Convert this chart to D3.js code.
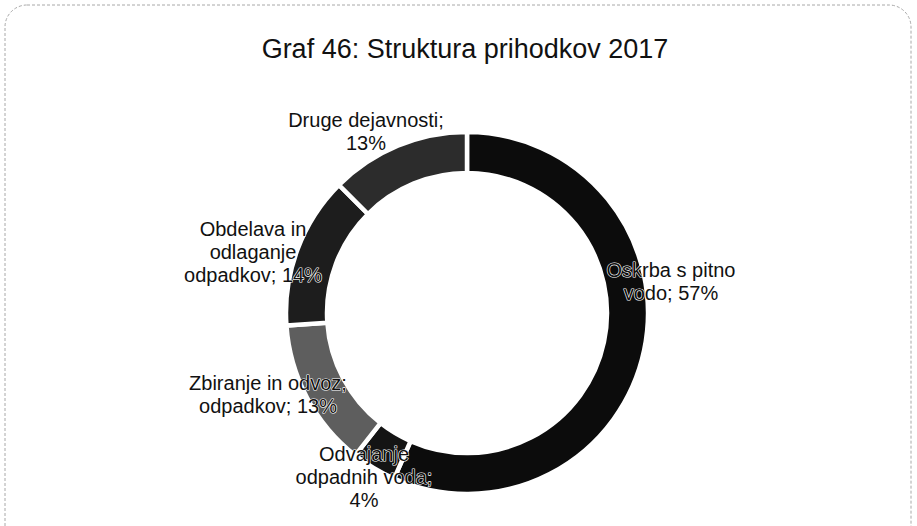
<!DOCTYPE html>
<html>
<head>
<meta charset="utf-8">
<script src="https://cdn.jsdelivr.net/npm/d3@7/dist/d3.min.js"></script>
<style>
  html, body { margin: 0; padding: 0; background: #fff; }
  svg { display: block; }
  text { font-family: "Liberation Sans", Arial, sans-serif; fill: #111; }
  .lbl { stroke: #fff; stroke-width: 1.2px; paint-order: stroke; stroke-linejoin: round; }
</style>
</head>
<body>
<svg id="chart" width="917" height="526"></svg>
<script>
// ---- data ----
const title = "Graf 46: Struktura prihodkov 2017";
const categories = [
  "Oskrba s pitno vodo",
  "Odvajanje odpadnih voda",
  "Zbiranje in odvoz odpadkov",
  "Obdelava in odlaganje odpadkov",
  "Druge dejavnosti"
];
const values = [56.6, 4.0, 13.3, 13.6, 12.5];
const labelLines = [
  ["Oskrba s pitno", "vodo; "],
  ["Odvajanje", "odpadnih voda;", ""],
  ["Zbiranje in odvoz;", "odpadkov; "],
  ["Obdelava in", "odlaganje", "odpadkov; "],
  ["Druge dejavnosti;", ""]
];
const colors = ["#0c0c0c", "#141414", "#5e5e5e", "#1d1d1d", "#2c2c2c"];
// label anchor (centre x, first baseline y)
const labelPos = [[671, 277], [364, 461], [268, 390], [253, 236], [366, 127]];

// ---- layout ----
const svg = d3.select("#chart");
const cx = 467, cy = 313, rOuter = 181, rInner = 140;

// scanned-style rounded frame
svg.append("rect")
  .attr("x", 5).attr("y", 5).attr("width", 906).attr("height", 560)
  .attr("rx", 22).attr("ry", 22)
  .attr("fill", "none").attr("stroke", "#a8a8a8")
  .attr("stroke-width", 1).attr("stroke-dasharray", "3,2");

svg.append("text")
  .attr("x", 465).attr("y", 58)
  .attr("text-anchor", "middle")
  .attr("font-size", 27)
  .text(title);

const pie = d3.pie().sort(null).value(d => d.value);
const data = categories.map((c, i) => ({ name: c, value: values[i], i }));
const arcs = pie(data);
const arc = d3.arc().innerRadius(rInner).outerRadius(rOuter);

const g = svg.append("g").attr("transform", `translate(${cx},${cy})`);
g.selectAll("path")
  .data(arcs)
  .join("path")
  .attr("d", arc)
  .attr("fill", d => colors[d.data.i])
  .attr("stroke", "#fff")
  .attr("stroke-width", 4.5)
  .attr("stroke-linejoin", "miter");

// labels
const lh = 23;
arcs.forEach(a => {
  const i = a.data.i;
  const pct = Math.round(a.data.value) + "%";
  const lines = labelLines[i].slice();
  lines[lines.length - 1] = lines[lines.length - 1] + pct;
  const t = svg.append("text")
    .attr("class", "lbl")
    .attr("text-anchor", "middle")
    .attr("font-size", 20)
    .attr("x", labelPos[i][0])
    .attr("y", labelPos[i][1]);
  lines.forEach((ln, k) => {
    t.append("tspan")
      .attr("x", labelPos[i][0])
      .attr("y", labelPos[i][1] + k * lh)
      .text(ln);
  });
});
</script>
</body>
</html>
